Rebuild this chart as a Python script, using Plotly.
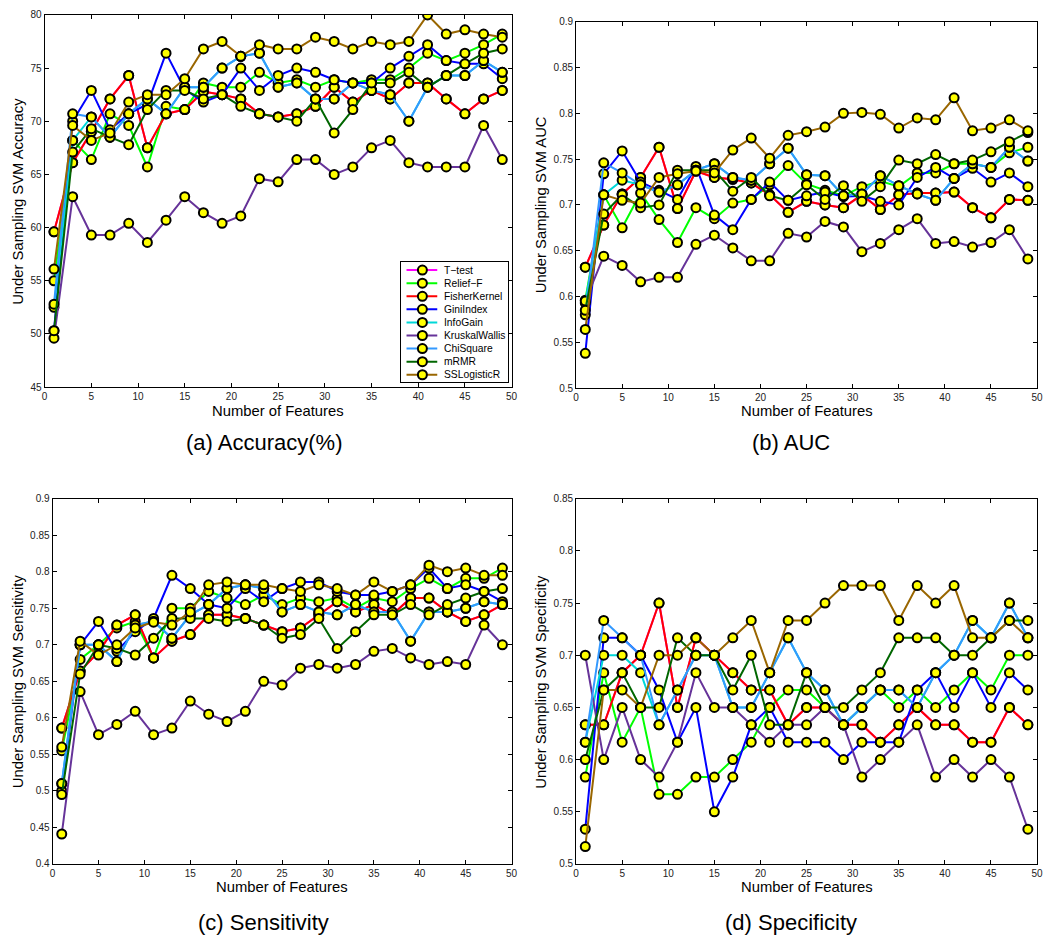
import plotly.graph_objects as go

x_features = list(range(1, 50, 2))

series_names = ["T\u2212test", "Relief\u2212F", "FisherKernel", "GiniIndex", "InfoGain",
                "KruskalWallis", "ChiSquare", "mRMR", "SSLogisticR"]
series_colors = ["#FF00FF", "#00FF00", "#FF0000", "#0000FF", "#00D8D8",
                 "#663399", "#3399FF", "#006600", "#996600"]

# ---------------- (a) Accuracy (%) ----------------
acc_ttest = [59.6, 66.1, 69.0, 72.1, 74.3, 67.5, 70.7, 71.1, 72.8, 72.5, 72.1, 70.7, 70.4,
             70.7, 71.4, 73.2, 71.8, 72.9, 72.1, 73.6, 73.6, 72.1, 70.7, 72.1, 72.9]
acc_relief = [55.0, 68.2, 66.4, 70.7, 69.6, 65.7, 71.4, 71.1, 73.6, 73.2, 73.2, 74.6, 73.6,
              73.9, 73.2, 73.9, 73.6, 73.9, 73.9, 75.0, 76.4, 75.7, 76.4, 77.2, 78.2]
acc_fisher = [59.6, 66.1, 69.0, 72.1, 74.3, 67.5, 70.7, 71.1, 72.8, 72.5, 72.1, 70.7, 70.4,
              70.7, 71.4, 73.2, 71.8, 72.9, 72.1, 73.6, 73.6, 72.1, 70.7, 72.1, 72.9]
acc_gini = [50.3, 70.0, 72.9, 69.2, 70.7, 71.6, 76.4, 73.0, 71.8, 72.5, 75.0, 72.9, 74.3,
            75.0, 74.6, 73.9, 73.6, 73.6, 75.0, 76.1, 77.2, 75.7, 75.4, 75.4, 74.0]
acc_infogain = [52.5, 68.2, 70.4, 68.5, 70.7, 72.1, 70.7, 73.2, 73.2, 75.0, 76.1, 76.4, 73.2,
                73.6, 72.1, 72.1, 73.6, 72.9, 72.5, 70.0, 73.2, 74.3, 74.3, 75.7, 74.6]
acc_kruskal = [49.6, 62.9, 59.3, 59.3, 60.4, 58.6, 60.7, 62.9, 61.4, 60.4, 61.1, 64.6, 64.3,
               66.4, 66.4, 65.0, 65.7, 67.5, 68.2, 66.1, 65.7, 65.7, 65.7, 69.6, 66.4]
acc_chi = [52.8, 70.7, 70.4, 68.5, 70.7, 72.1, 70.7, 73.2, 73.2, 75.0, 76.1, 76.4, 73.2,
           73.6, 72.1, 72.1, 73.6, 72.9, 72.5, 70.0, 73.2, 74.3, 74.3, 75.7, 74.6]
acc_mrmr = [50.3, 67.1, 69.3, 68.5, 67.8, 71.1, 72.9, 72.9, 72.1, 72.5, 71.4, 70.7, 70.4,
            70.0, 72.1, 68.9, 71.1, 73.6, 73.6, 74.6, 73.2, 74.3, 75.4, 76.4, 76.8]
acc_sslr = [56.1, 69.6, 68.2, 68.9, 71.8, 72.5, 72.5, 74.0, 76.8, 77.5, 76.1, 77.2, 76.8,
            76.8, 77.9, 77.5, 76.8, 77.5, 77.2, 77.5, 80.0, 78.2, 78.6, 78.2, 77.9]

# ---------------- (b) AUC ----------------
auc_ttest = [0.632, 0.678, 0.712, 0.730, 0.763, 0.696, 0.737, 0.730, 0.728, 0.724, 0.711, 0.692, 0.704,
             0.700, 0.697, 0.711, 0.695, 0.711, 0.713, 0.713, 0.714, 0.697, 0.686, 0.706, 0.705]
auc_relief = [0.596, 0.711, 0.675, 0.713, 0.684, 0.659, 0.697, 0.685, 0.702, 0.706, 0.722, 0.743, 0.723,
              0.716, 0.710, 0.720, 0.726, 0.720, 0.735, 0.735, 0.745, 0.745, 0.741, 0.757, 0.763]
auc_fisher = [0.632, 0.678, 0.712, 0.730, 0.763, 0.696, 0.737, 0.730, 0.728, 0.724, 0.711, 0.692, 0.704,
              0.700, 0.697, 0.711, 0.695, 0.711, 0.713, 0.713, 0.714, 0.697, 0.686, 0.706, 0.705]
auc_gini = [0.538, 0.734, 0.759, 0.725, 0.716, 0.706, 0.742, 0.689, 0.673, 0.706, 0.725, 0.705, 0.710,
            0.714, 0.709, 0.710, 0.704, 0.700, 0.730, 0.741, 0.729, 0.740, 0.725, 0.735, 0.720]
auc_infogain = [0.593, 0.711, 0.727, 0.722, 0.714, 0.722, 0.738, 0.745, 0.730, 0.727, 0.745, 0.762, 0.733,
                0.732, 0.710, 0.712, 0.732, 0.721, 0.712, 0.705, 0.729, 0.745, 0.741, 0.763, 0.748]
auc_kruskal = [0.595, 0.644, 0.634, 0.616, 0.621, 0.621, 0.657, 0.667, 0.653, 0.639, 0.639, 0.669, 0.665,
               0.682, 0.676, 0.649, 0.658, 0.673, 0.685, 0.658, 0.660, 0.654, 0.659, 0.673, 0.641]
auc_chi = [0.580, 0.746, 0.735, 0.722, 0.714, 0.722, 0.738, 0.745, 0.730, 0.727, 0.745, 0.762, 0.733,
           0.732, 0.710, 0.712, 0.732, 0.721, 0.712, 0.705, 0.729, 0.745, 0.741, 0.763, 0.748]
auc_mrmr = [0.585, 0.690, 0.711, 0.697, 0.700, 0.738, 0.738, 0.738, 0.715, 0.730, 0.710, 0.705, 0.722,
            0.706, 0.721, 0.704, 0.720, 0.749, 0.745, 0.755, 0.745, 0.749, 0.758, 0.769, 0.779]
auc_sslr = [0.564, 0.711, 0.705, 0.702, 0.730, 0.734, 0.737, 0.735, 0.760, 0.773, 0.751, 0.776, 0.780,
            0.785, 0.800, 0.801, 0.799, 0.784, 0.795, 0.793, 0.817, 0.781, 0.784, 0.793, 0.781]

# ---------------- (c) Sensitivity ----------------
sen_ttest = [0.586, 0.664, 0.690, 0.727, 0.741, 0.682, 0.705, 0.714, 0.741, 0.741, 0.736, 0.727, 0.718,
             0.723, 0.741, 0.759, 0.745, 0.755, 0.741, 0.764, 0.764, 0.745, 0.732, 0.741, 0.755]
sen_relief = [0.555, 0.680, 0.700, 0.723, 0.732, 0.682, 0.750, 0.750, 0.773, 0.764, 0.755, 0.768, 0.755,
              0.764, 0.759, 0.764, 0.750, 0.764, 0.759, 0.777, 0.791, 0.777, 0.791, 0.791, 0.805]
sen_fisher = [0.586, 0.664, 0.690, 0.727, 0.741, 0.682, 0.705, 0.714, 0.741, 0.741, 0.736, 0.727, 0.718,
              0.723, 0.741, 0.759, 0.745, 0.755, 0.741, 0.764, 0.764, 0.745, 0.732, 0.741, 0.755]
sen_gini = [0.500, 0.700, 0.732, 0.691, 0.718, 0.736, 0.795, 0.777, 0.755, 0.750, 0.777, 0.759, 0.777,
            0.786, 0.786, 0.773, 0.768, 0.768, 0.773, 0.782, 0.805, 0.777, 0.782, 0.773, 0.759]
sen_infogain = [0.510, 0.700, 0.700, 0.677, 0.727, 0.732, 0.709, 0.741, 0.755, 0.777, 0.782, 0.777, 0.745,
                0.755, 0.745, 0.741, 0.755, 0.745, 0.745, 0.705, 0.745, 0.745, 0.750, 0.759, 0.755]
sen_kruskal = [0.441, 0.636, 0.577, 0.591, 0.609, 0.577, 0.586, 0.623, 0.605, 0.595, 0.609, 0.650, 0.645,
               0.668, 0.673, 0.668, 0.673, 0.691, 0.695, 0.682, 0.673, 0.677, 0.673, 0.727, 0.700]
sen_chi = [0.510, 0.700, 0.700, 0.677, 0.727, 0.732, 0.709, 0.741, 0.755, 0.777, 0.782, 0.777, 0.745,
           0.755, 0.745, 0.741, 0.755, 0.745, 0.745, 0.705, 0.745, 0.745, 0.750, 0.759, 0.755]
sen_mrmr = [0.495, 0.660, 0.700, 0.695, 0.686, 0.709, 0.736, 0.736, 0.736, 0.732, 0.736, 0.727, 0.709,
            0.714, 0.736, 0.695, 0.718, 0.741, 0.741, 0.755, 0.741, 0.755, 0.764, 0.773, 0.777]
sen_sslr = [0.560, 0.705, 0.686, 0.700, 0.723, 0.731, 0.727, 0.745, 0.782, 0.786, 0.782, 0.782, 0.777,
            0.773, 0.782, 0.777, 0.768, 0.786, 0.773, 0.782, 0.809, 0.800, 0.805, 0.795, 0.795]

# ---------------- (d) Specificity ----------------
spe_ttest = [0.6333, 0.6333, 0.6833, 0.7000, 0.7500, 0.6500, 0.7167, 0.7000, 0.6833, 0.6667, 0.6667, 0.6333, 0.6500,
             0.6500, 0.6333, 0.6333, 0.6167, 0.6333, 0.6500, 0.6333, 0.6333, 0.6167, 0.6167, 0.6500, 0.6333]
spe_relief = [0.5833, 0.6833, 0.6167, 0.6500, 0.5667, 0.5667, 0.5833, 0.5833, 0.6000, 0.6167, 0.6500, 0.6667, 0.6667,
              0.6500, 0.6333, 0.6500, 0.6667, 0.6500, 0.6667, 0.6500, 0.6667, 0.6833, 0.6667, 0.7000, 0.7000]
spe_fisher = [0.6333, 0.6333, 0.6833, 0.7000, 0.7500, 0.6500, 0.7167, 0.7000, 0.6833, 0.6667, 0.6667, 0.6333, 0.6500,
              0.6500, 0.6333, 0.6333, 0.6167, 0.6333, 0.6500, 0.6333, 0.6333, 0.6167, 0.6167, 0.6500, 0.6333]
spe_gini = [0.5333, 0.7167, 0.7167, 0.7000, 0.6667, 0.6167, 0.6500, 0.5500, 0.5833, 0.6333, 0.6500, 0.6167, 0.6167,
            0.6167, 0.6000, 0.6167, 0.6167, 0.6167, 0.6667, 0.6833, 0.6500, 0.6833, 0.6500, 0.6833, 0.6667]
spe_infogain = [0.6167, 0.7000, 0.7000, 0.6833, 0.6333, 0.6667, 0.7000, 0.7000, 0.6500, 0.6500, 0.6833, 0.7167, 0.6833,
                0.6667, 0.6333, 0.6500, 0.6667, 0.6667, 0.6500, 0.6833, 0.7000, 0.7333, 0.7167, 0.7500, 0.7167]
spe_kruskal = [0.7000, 0.6000, 0.6500, 0.6000, 0.5833, 0.6167, 0.6833, 0.6500, 0.6500, 0.6333, 0.6167, 0.6333, 0.6333,
               0.6500, 0.6333, 0.5833, 0.6000, 0.6167, 0.6333, 0.5833, 0.6000, 0.5833, 0.6000, 0.5833, 0.5333]
spe_chi = [0.6167, 0.7333, 0.7167, 0.7000, 0.6333, 0.6667, 0.7000, 0.7000, 0.6500, 0.6500, 0.6833, 0.7167, 0.6833,
           0.6667, 0.6333, 0.6500, 0.6667, 0.6667, 0.6500, 0.6833, 0.7000, 0.7333, 0.7167, 0.7500, 0.7167]
spe_mrmr = [0.6000, 0.6667, 0.6833, 0.6500, 0.6500, 0.7167, 0.7000, 0.7000, 0.6667, 0.7000, 0.6333, 0.6333, 0.6833,
            0.6500, 0.6500, 0.6667, 0.6833, 0.7167, 0.7167, 0.7167, 0.7000, 0.7000, 0.7167, 0.7333, 0.7333]
spe_sslr = [0.5167, 0.6667, 0.6667, 0.6500, 0.7000, 0.7000, 0.7167, 0.7000, 0.7167, 0.7333, 0.6833, 0.7333, 0.7333,
            0.7500, 0.7667, 0.7667, 0.7667, 0.7333, 0.7667, 0.7500, 0.7667, 0.7167, 0.7167, 0.7333, 0.7167]

W, H = 1053, 945

def px_x(p):
    return p / W

def px_y(p):
    return 1 - p / H

panels = [
    dict(data=[acc_ttest, acc_relief, acc_fisher, acc_gini, acc_infogain, acc_kruskal, acc_chi, acc_mrmr, acc_sslr],
         yrange=[45, 80], dtick=5, ytitle="Under Sampling SVM Accuracy", caption="(a) Accuracy(%)",
         box=(42, 513, 9, 386), ytitle_x=15, caption_x=263, caption_y=442, xtitle_y=410),
    dict(data=[auc_ttest, auc_relief, auc_fisher, auc_gini, auc_infogain, auc_kruskal, auc_chi, auc_mrmr, auc_sslr],
         yrange=[0.5, 0.9], dtick=0.05, ytitle="Under Sampling SVM AUC", caption="(b) AUC",
         box=(578, 1043, 16, 387), ytitle_x=543, caption_x=795, caption_y=442, xtitle_y=410),
    dict(data=[sen_ttest, sen_relief, sen_fisher, sen_gini, sen_infogain, sen_kruskal, sen_chi, sen_mrmr, sen_sslr],
         yrange=[0.4, 0.9], dtick=0.05, ytitle="Under Sampling SVM Sensitivity", caption="(c) Sensitivity",
         box=(50, 513, 499, 869), ytitle_x=15, caption_x=263, caption_y=928, xtitle_y=892),
    dict(data=[spe_ttest, spe_relief, spe_fisher, spe_gini, spe_infogain, spe_kruskal, spe_chi, spe_mrmr, spe_sslr],
         yrange=[0.5, 0.85], dtick=0.05, ytitle="Under Sampling SVM Specificity", caption="(d) Specificity",
         box=(578, 1043, 499, 869), ytitle_x=543, caption_x=795, caption_y=928, xtitle_y=892),
]

FONT = "Liberation Sans, Arial, Helvetica, sans-serif"
fig = go.Figure()
layout = dict(width=W, height=H, margin=dict(l=0, r=0, t=0, b=0),
              paper_bgcolor="white", plot_bgcolor="white", showlegend=False,
              font=dict(family=FONT, color="black", size=10),
              annotations=[])

for i, p in enumerate(panels):
    n = i + 1
    xa = "x" if n == 1 else f"x{n}"
    ya = "y" if n == 1 else f"y{n}"
    for name, color, vals in zip(series_names, series_colors, p["data"]):
        fig.add_trace(go.Scatter(
            x=x_features, y=vals, mode="lines+markers", name=name,
            xaxis=xa, yaxis=ya,
            line=dict(color=color, width=2),
            marker=dict(color="#FFFF00", size=9, line=dict(color="black", width=2)),
        ))
    l, r, t, b = p["box"]
    axis_common = dict(showgrid=False, zeroline=False, showline=True, linecolor="black", linewidth=1,
                       mirror="allticks", ticks="inside", ticklen=4, tickcolor="black",
                       tickfont=dict(size=10, family=FONT, color="#222"))
    layout["xaxis" if n == 1 else f"xaxis{n}"] = dict(
        domain=[px_x(l), px_x(r)], range=[0, 50], dtick=5, tick0=0, anchor=ya, **axis_common)
    layout["yaxis" if n == 1 else f"yaxis{n}"] = dict(
        domain=[px_y(b), px_y(t)], range=p["yrange"], dtick=p["dtick"], tick0=p["yrange"][0], anchor=xa,
        **axis_common)
    layout["annotations"].append(dict(
        text="Number of Features", x=px_x((l + r) / 2), y=px_y(p["xtitle_y"]), xref="paper", yref="paper",
        xanchor="center", yanchor="middle", showarrow=False, font=dict(size=14.8, family=FONT)))
    layout["annotations"].append(dict(
        text=p["ytitle"], x=px_x(p["ytitle_x"]), y=px_y((t + b) / 2),
        xref="paper", yref="paper", xanchor="center", yanchor="middle", textangle=-90,
        showarrow=False, font=dict(size=14.8, family=FONT)))
    layout["annotations"].append(dict(
        text=p["caption"], x=px_x(p["caption_x"]), y=px_y(p["caption_y"]), xref="paper", yref="paper",
        xanchor="center", yanchor="middle", showarrow=False, font=dict(size=22, family=FONT)))

# ---- MATLAB-style compact legend drawn in an inset box inside panel (a) ----
leg_l, leg_r, leg_t, leg_b = 401, 509, 259, 381
layout["xaxis5"] = dict(domain=[px_x(leg_l), px_x(leg_r)], range=[0, leg_r - leg_l], anchor="y5",
                        showline=True, mirror=True, linecolor="black", linewidth=1,
                        showticklabels=False, ticks="", showgrid=False, zeroline=False, fixedrange=True)
layout["yaxis5"] = dict(domain=[px_y(leg_b), px_y(leg_t)], range=[leg_b - leg_t, 0], anchor="x5",
                        showline=True, mirror=True, linecolor="black", linewidth=1,
                        showticklabels=False, ticks="", showgrid=False, zeroline=False, fixedrange=True)
row0, row_step = 8.5, 13.25
for k, (name, color) in enumerate(zip(series_names, series_colors)):
    ry = row0 + row_step * k
    fig.add_trace(go.Scatter(x=[6, 37], y=[ry, ry], mode="lines", xaxis="x5", yaxis="y5",
                             line=dict(color=color, width=2), hoverinfo="skip"))
    fig.add_trace(go.Scatter(x=[22], y=[ry], mode="markers", xaxis="x5", yaxis="y5",
                             marker=dict(color="#FFFF00", size=9, line=dict(color="black", width=2)),
                             hoverinfo="skip"))
    layout["annotations"].append(dict(
        text=name, x=42, y=ry, xref="x5", yref="y5", xanchor="left", yanchor="middle",
        showarrow=False, font=dict(size=10.3, family=FONT)))

fig.update_layout(**layout)
fig.write_html("out.html", config={"displayModeBar": False},
               post_script="document.body.style.margin='0';document.body.style.overflow='hidden';")
